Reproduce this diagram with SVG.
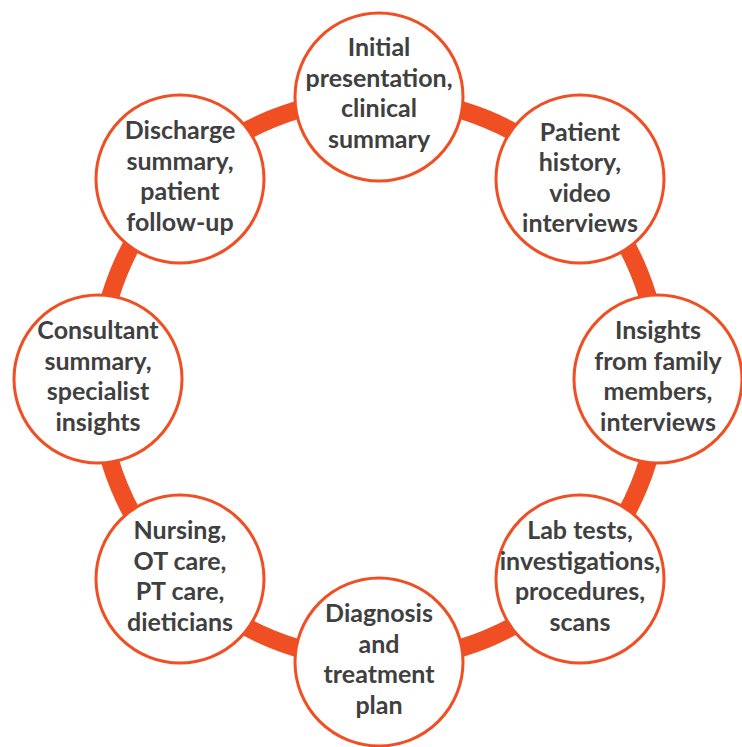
<svg xmlns="http://www.w3.org/2000/svg" width="742" height="747" viewBox="0 0 742 747">
<style>
.ring{fill:none;stroke:#F04E23;stroke-width:18}
.node circle{fill:#fff;stroke:#F04E23;stroke-width:3}
.node text{font-family:Lato,"Liberation Sans",sans-serif;font-weight:700;font-size:25px;fill:#404040;text-anchor:middle}
</style>
<rect width="742" height="747" fill="#fff"/>
<g id="connectors">
<path class="ring" d="M379 98 A281 281 0 0 1 578 180"/>
<path class="ring" d="M578 180 A281 281 0 0 1 660 379"/>
<path class="ring" d="M660 379 A281 281 0 0 1 578 578"/>
<path class="ring" d="M578 578 A281 281 0 0 1 379 660"/>
<path class="ring" d="M379 660 A281 281 0 0 1 180 578"/>
<path class="ring" d="M180 578 A281 281 0 0 1 98 379"/>
<path class="ring" d="M98 379 A281 281 0 0 1 180 180"/>
<path class="ring" d="M180 180 A281 281 0 0 1 379 98"/>
</g>
<g id="n1" class="node"><circle cx="379" cy="97" r="84"/>
<text x="379"><tspan x="379" y="56">Initial</tspan><tspan x="379" y="87">presentation,</tspan><tspan x="379" y="117">clinical</tspan><tspan x="379" y="148">summary</tspan></text></g>
<g id="n2" class="node"><circle cx="580" cy="179" r="84"/>
<text><tspan x="580" y="141">Patient</tspan><tspan x="580" y="171">history,</tspan><tspan x="580" y="202">video</tspan><tspan x="580" y="232">interviews</tspan></text></g>
<g id="n3" class="node"><circle cx="658" cy="379" r="84"/>
<text><tspan x="658" y="339">Insights</tspan><tspan x="658" y="370">from family</tspan><tspan x="658" y="400">members,</tspan><tspan x="658" y="431">interviews</tspan></text></g>
<g id="n4" class="node"><circle cx="580" cy="579" r="84"/>
<text><tspan x="580" y="539">Lab tests,</tspan><tspan x="580" y="570">investigations,</tspan><tspan x="580" y="600">procedures,</tspan><tspan x="580" y="631">scans</tspan></text></g>
<g id="n5" class="node"><circle cx="379" cy="662" r="84"/>
<text><tspan x="379" y="622">Diagnosis</tspan><tspan x="379" y="653">and</tspan><tspan x="379" y="683">treatment</tspan><tspan x="379" y="714">plan</tspan></text></g>
<g id="n6" class="node"><circle cx="180" cy="579" r="84"/>
<text><tspan x="180" y="539">Nursing,</tspan><tspan x="180" y="570">OT care,</tspan><tspan x="180" y="600">PT care,</tspan><tspan x="180" y="631">dieticians</tspan></text></g>
<g id="n7" class="node"><circle cx="98" cy="379" r="84"/>
<text><tspan x="98" y="339">Consultant</tspan><tspan x="98" y="370">summary,</tspan><tspan x="98" y="400">specialist</tspan><tspan x="98" y="431">insights</tspan></text></g>
<g id="n8" class="node"><circle cx="180" cy="179" r="84"/>
<text><tspan x="180" y="139">Discharge</tspan><tspan x="180" y="170">summary,</tspan><tspan x="180" y="200">patient</tspan><tspan x="180" y="231">follow-up</tspan></text></g>
</svg>
